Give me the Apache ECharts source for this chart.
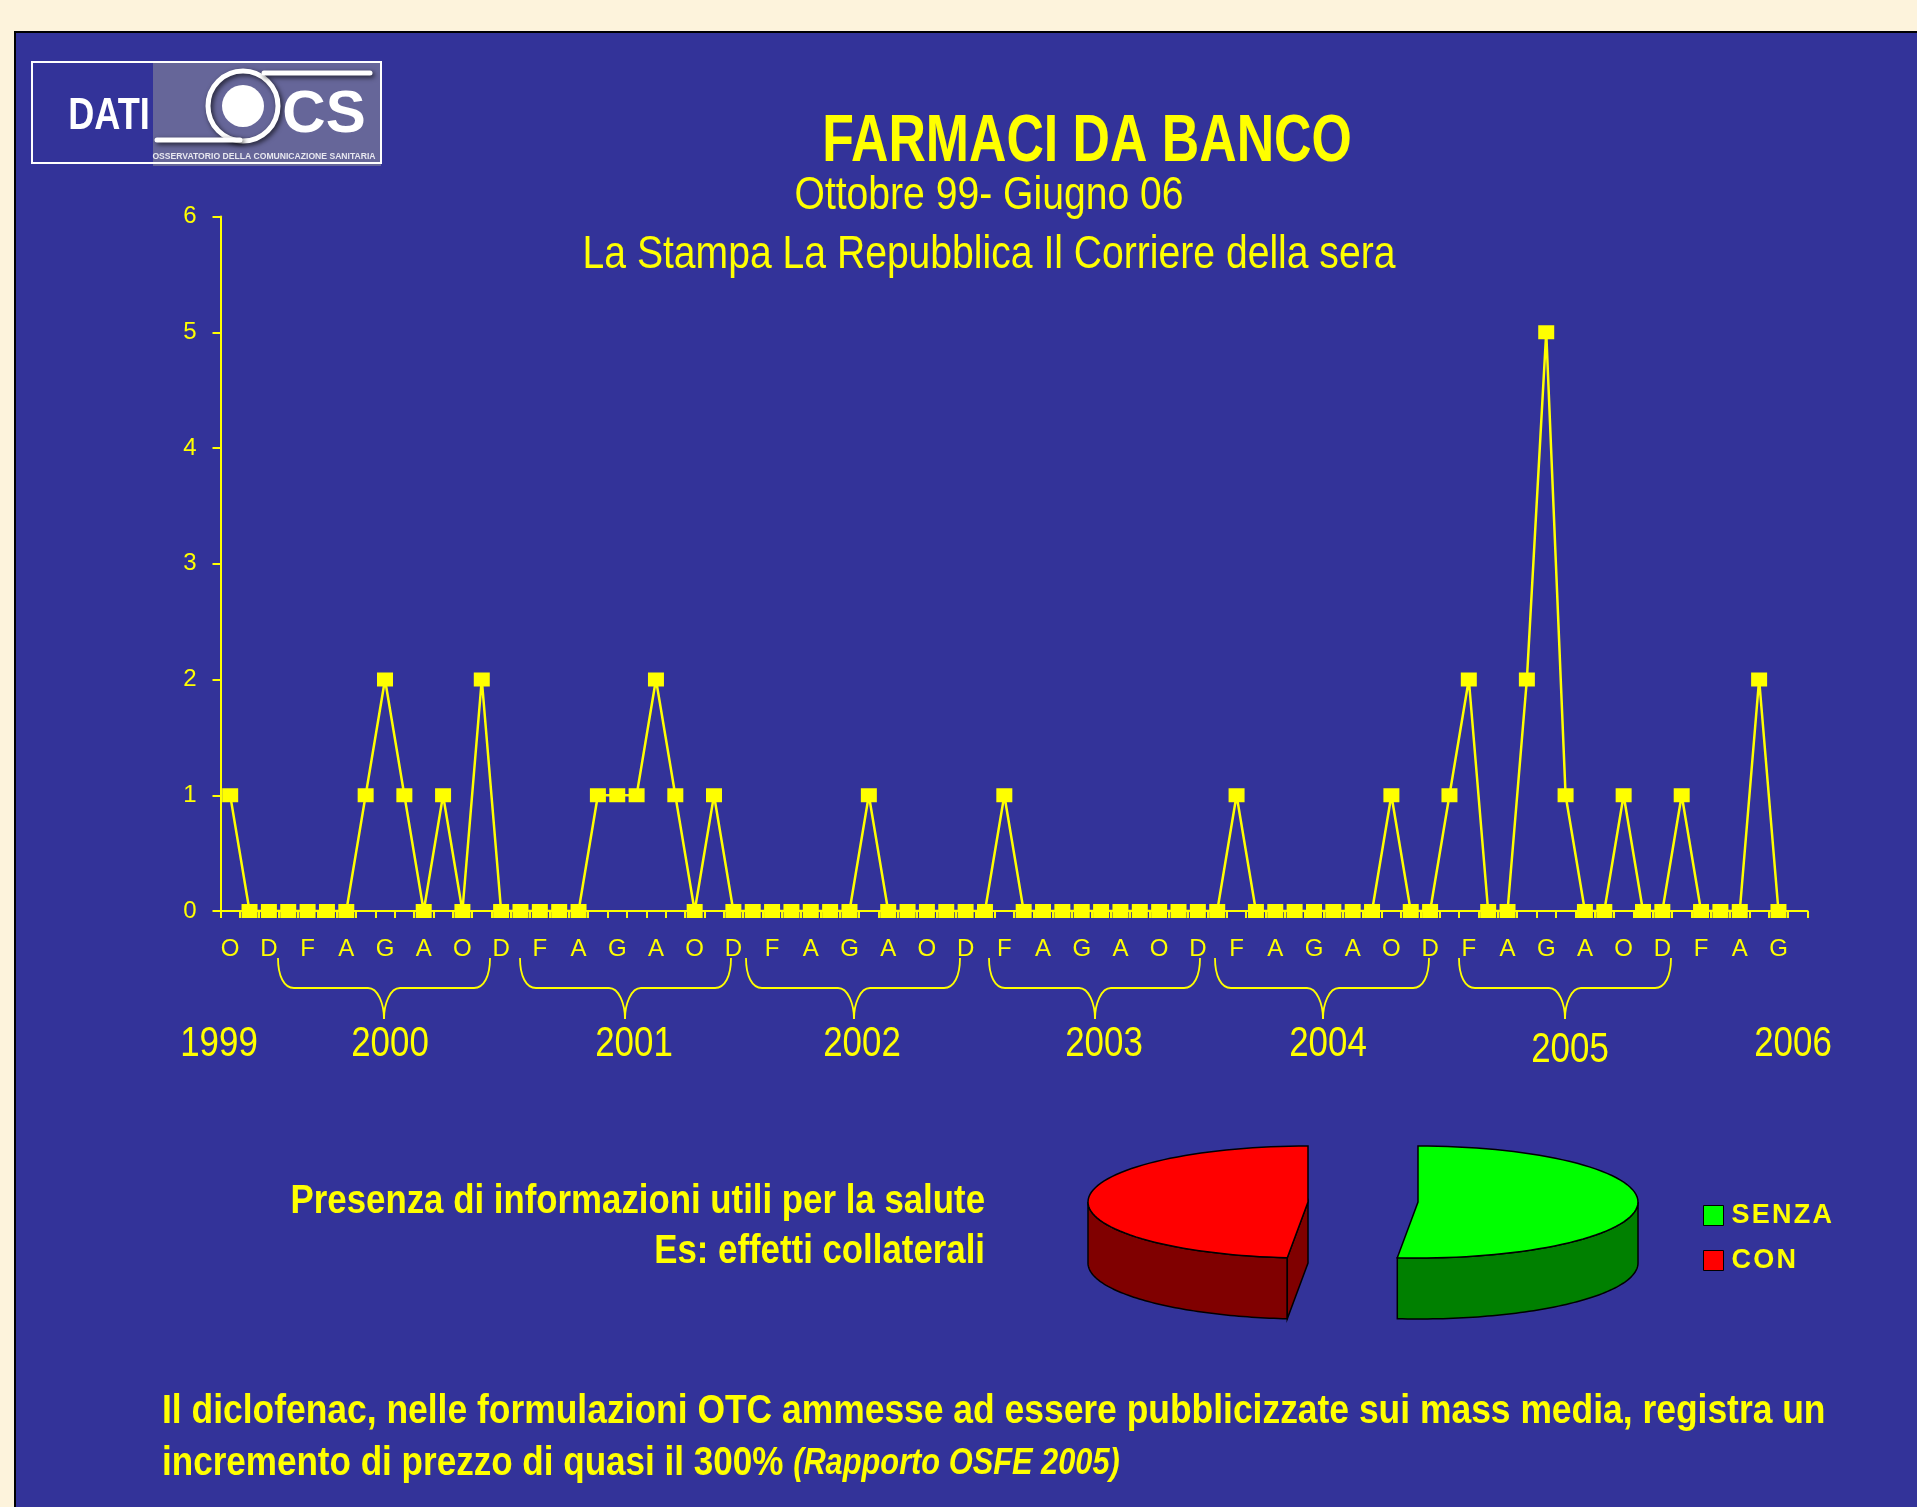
<!DOCTYPE html>
<html>
<head>
<meta charset="utf-8">
<title>Farmaci da banco</title>
<script src="https://cdn.jsdelivr.net/npm/echarts@6/dist/echarts.min.js"></script>
<style>
  html, body { margin: 0; padding: 0; background: #fdf3dc; }
  #chart { width: 1917px; height: 1507px; }
</style>
</head>
<body>
<div id="chart"></div>
<script>
// months from Oct 99 to Jun 06, plus the empty slot at the end of the axis
const months = [
  "O", "N", "D",
  "G", "F", "M", "A", "M", "G", "L", "A", "S", "O", "N", "D",
  "G", "F", "M", "A", "M", "G", "L", "A", "S", "O", "N", "D",
  "G", "F", "M", "A", "M", "G", "L", "A", "S", "O", "N", "D",
  "G", "F", "M", "A", "M", "G", "L", "A", "S", "O", "N", "D",
  "G", "F", "M", "A", "M", "G", "L", "A", "S", "O", "N", "D",
  "G", "F", "M", "A", "M", "G", "L", "A", "S", "O", "N", "D",
  "G", "F", "M", "A", "M", "G", ""
];
const articles = [
  1, 0, 0,
  0, 0, 0, 0, 1, 2, 1, 0, 1, 0, 2, 0,
  0, 0, 0, 0, 1, 1, 1, 2, 1, 0, 1, 0,
  0, 0, 0, 0, 0, 0, 1, 0, 0, 0, 0, 0,
  0, 1, 0, 0, 0, 0, 0, 0, 0, 0, 0, 0,
  0, 1, 0, 0, 0, 0, 0, 0, 0, 1, 0, 0,
  1, 2, 0, 0, 2, 5, 1, 0, 0, 1, 0, 0,
  1, 0, 0, 0, 2, 0, null
];
const pieNames = ["SENZA", "CON"];
const pieValues = [51.5, 48.5];
const years = ["1999", "2000", "2001", "2002", "2003", "2004", "2005", "2006"];

const YELLOW = "#ffff00";
const BLUE = "#333399";
const FONT = '"Liberation Sans", sans-serif';

const chart = echarts.init(document.getElementById("chart"));

// the slide uses a condensed face, so texts get squeezed with scaleX
function text(x, y, str, size, squeeze, extra) {
  return {
    type: "text",
    x: x,
    y: y,
    scaleX: squeeze,
    silent: true,
    style: Object.assign({
      text: str,
      fill: YELLOW,
      font: size + "px " + FONT,
      align: "center",
      verticalAlign: "middle"
    }, extra || {})
  };
}

function curve(x1, y1, cx1, cy1, cx2, cy2, x2, y2) {
  return {
    type: "bezierCurve",
    silent: true,
    shape: { x1: x1, y1: y1, cpx1: cx1, cpy1: cy1, cpx2: cx2, cpy2: cy2, x2: x2, y2: y2 },
    style: { fill: "none", stroke: YELLOW, lineWidth: 1.8 }
  };
}

function seg(x1, y1, x2, y2, style) {
  return {
    type: "line",
    silent: true,
    shape: { x1: x1, y1: y1, x2: x2, y2: y2 },
    style: style || { stroke: YELLOW, lineWidth: 1.8 }
  };
}

function brace(x0, tip, x1) {
  const top = 958, flat = 988, end = 1019;
  return [
    curve(x0, top, x0, top + 18, x0 + 6, flat, x0 + 16, flat),
    seg(x0 + 16, flat, tip - 16, flat),
    curve(tip - 16, flat, tip - 6, flat, tip, flat + 16, tip, end),
    curve(tip, end, tip, flat + 16, tip + 6, flat, tip + 16, flat),
    seg(tip + 16, flat, x1 - 16, flat),
    curve(x1 - 16, flat, x1 - 6, flat, x1, top + 18, x1, top)
  ];
}

function logo() {
  const shadow = { shadowBlur: 5, shadowColor: "rgba(0,0,0,0.7)", shadowOffsetX: 2, shadowOffsetY: 2 };
  const wire = Object.assign({ fill: "none", stroke: "#ffffff", lineWidth: 5, lineCap: "round" }, shadow);
  return [
    { type: "rect", silent: true, shape: { x: 153, y: 63, width: 228, height: 103 }, style: { fill: "#666699" } },
    { type: "rect", silent: true, shape: { x: 32, y: 62, width: 349, height: 101 }, style: { fill: "none", stroke: "#ffffff", lineWidth: 2 } },
    text(109, 117, "DATI", 44, 0.82, { fill: "#ffffff", font: "bold 44px " + FONT }),
    { type: "circle", silent: true, shape: { cx: 243, cy: 106, r: 35 }, style: wire },
    seg(157, 140, 240, 140, wire),
    seg(264, 73, 370, 73, wire),
    { type: "circle", silent: true, shape: { cx: 243, cy: 106, r: 21 }, style: { fill: "#ffffff" } },
    text(324, 115, "CS", 60, 1, Object.assign({ fill: "#ffffff", font: "bold 60px " + FONT }, shadow)),
    text(264, 157, "OSSERVATORIO DELLA COMUNICAZIONE SANITARIA", 8, 1, { fill: "#e8e8f0", font: "bold 8.6px " + FONT })
  ];
}

// elliptical slice with side wall, built from the share of the value
function renderSlice(params, api) {
  const value = api.value(0);
  const total = pieValues.reduce(function (a, b) { return a + b; }, 0);
  const sweep = value / total * Math.PI * 2;
  const clockwise = params.seriesName === "SENZA";
  const cx = clockwise ? 1418 : 1308;
  const cy = 1202, rx = 220, ry = 56, depth = 61;
  const from = clockwise ? 0 : -sweep;
  const to = clockwise ? sweep : 0;
  const pt = function (a, dy) {
    return [cx + rx * Math.sin(a), cy - ry * Math.cos(a) + (dy || 0)];
  };
  const steps = 72;
  const rim = [];
  for (let i = 0; i <= steps; i++) {
    rim.push(pt(from + (to - from) * i / steps));
  }
  // outer wall only where the rim faces the viewer
  const lo = clockwise ? Math.PI / 2 : from;
  const hi = clockwise ? to : -Math.PI / 2;
  const wallTop = [], wallBottom = [];
  for (let i = 0; i <= steps; i++) {
    const a = lo + (hi - lo) * i / steps;
    wallTop.push(pt(a));
    wallBottom.unshift(pt(a, depth));
  }
  const color = api.visual("color");
  const stroke = { stroke: "#000000", lineWidth: 1.5 };
  const dark = clockwise ? "#008000" : "#800000";
  const children = [
    { type: "polygon", shape: { points: wallTop.concat(wallBottom) }, style: Object.assign({ fill: dark }, stroke) }
  ];
  if (!clockwise) {
    const cutEnd = pt(from);
    children.push({
      type: "polygon",
      shape: { points: [cutEnd, [cx, cy], [cx, cy + depth], [cutEnd[0], cutEnd[1] + depth]] },
      style: Object.assign({ fill: dark }, stroke)
    });
  }
  children.push({
    type: "polygon",
    shape: { points: [[cx, cy]].concat(rim) },
    style: Object.assign({ fill: color }, stroke)
  });
  return { type: "group", children: children };
}

const yearX = [219, 390, 634, 862, 1104, 1328, 1570, 1793];
const yearY = [1044, 1044, 1044, 1044, 1044, 1044, 1050, 1044];

const boldText = "bold 41px " + FONT;

chart.setOption({
  backgroundColor: "#fdf3dc",
  animation: false,
  textStyle: { fontFamily: FONT },
  grid: { left: 220.5, top: 216.5, width: 1587, height: 694.5, containLabel: false },
  legend: {
    left: 1698,
    top: 1197,
    orient: "vertical",
    itemWidth: 20,
    itemHeight: 20,
    itemGap: 18,
    icon: "rect",
    data: pieNames,
    itemStyle: { borderColor: "#000000", borderWidth: 1 },
    formatter: function (n) { return n.split("").join("\u200a"); },
    textStyle: { color: YELLOW, fontSize: 27, fontWeight: "bold", fontFamily: FONT, padding: [0, 0, 0, 3] }
  },
  xAxis: {
    type: "category",
    data: months,
    boundaryGap: true,
    axisLine: { lineStyle: { color: YELLOW, width: 2 } },
    axisTick: { show: true, interval: 0, length: 7, lineStyle: { color: YELLOW, width: 2 } },
    axisLabel: { interval: 1, color: YELLOW, fontSize: 24, margin: 26, fontFamily: FONT },
    splitLine: { show: false }
  },
  yAxis: {
    type: "value",
    min: 0,
    max: 6,
    interval: 1,
    axisLine: { show: true, lineStyle: { color: YELLOW, width: 2 } },
    axisTick: { show: true, length: 8, lineStyle: { color: YELLOW, width: 2 } },
    axisLabel: { color: YELLOW, fontSize: 24, margin: 24, fontFamily: FONT },
    splitLine: { show: false }
  },
  series: [
    {
      type: "line",
      data: articles,
      symbol: "rect",
      symbolSize: [16, 14],
      showAllSymbol: true,
      lineStyle: { color: YELLOW, width: 2.5 },
      itemStyle: { color: YELLOW },
      z: 5
    },
    {
      type: "custom",
      name: pieNames[0],
      coordinateSystem: "none",
      data: [[pieValues[0]]],
      renderItem: renderSlice,
      itemStyle: { color: "#00ff00" },
      encode: { value: 0 }
    },
    {
      type: "custom",
      name: pieNames[1],
      coordinateSystem: "none",
      data: [[pieValues[1]]],
      renderItem: renderSlice,
      itemStyle: { color: "#ff0000" },
      encode: { value: 0 }
    }
  ],
  graphic: { elements: [
    { type: "rect", silent: true, z: -10, shape: { x: 15, y: 32, width: 1950, height: 1520 }, style: { fill: BLUE, stroke: "#000000", lineWidth: 2 } },
    text(1087, 143, "FARMACI DA BANCO", 66, 0.785, { font: "bold 66px " + FONT }),
    text(989, 196, "Ottobre 99- Giugno 06", 46, 0.85),
    text(989, 255, "La Stampa La Repubblica Il Corriere della sera", 46, 0.85),
    text(985, 1202, "Presenza di informazioni utili per la salute", 41, 0.849, { align: "right", font: boldText }),
    text(985, 1252, "Es: effetti collaterali", 41, 0.849, { align: "right", font: boldText }),
    text(162, 1412, "Il diclofenac, nelle formulazioni OTC ammesse ad essere pubblicizzate sui mass media, registra un", 41, 0.864, { align: "left", font: boldText }),
    text(162, 1464, "incremento di prezzo di quasi il 300% {i|(Rapporto OSFE 2005)}", 41, 0.855, { align: "left", font: boldText,
      rich: { i: { font: "italic bold 36px " + FONT, fill: YELLOW } } })
  ].concat(
    brace(278, 384, 490),
    brace(520, 625, 731),
    brace(746, 854, 960),
    brace(989, 1095, 1200),
    brace(1215, 1323, 1429),
    brace(1459, 1565, 1671),
    years.map(function (y, i) {
      return text(yearX[i], yearY[i], y, 42, 0.83);
    }),
    logo()
  ) }
});
</script>
</body>
</html>
